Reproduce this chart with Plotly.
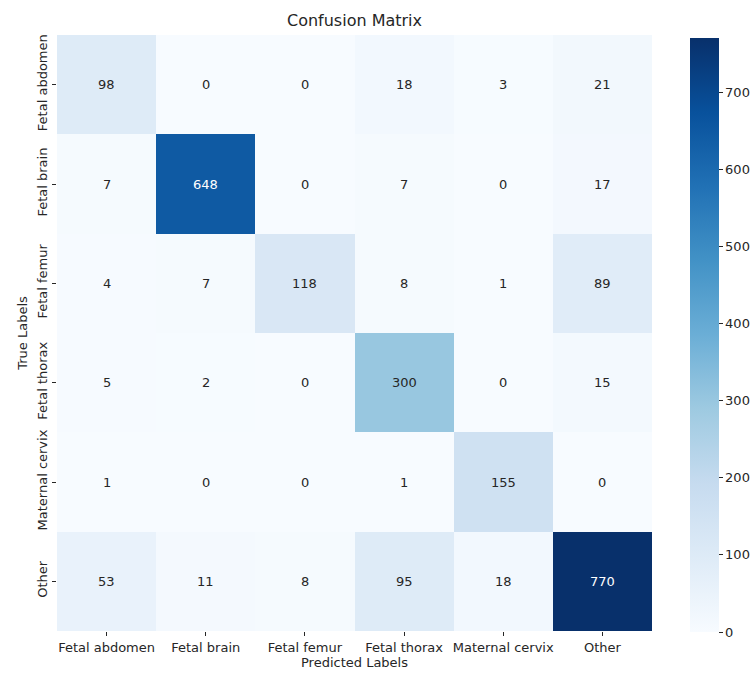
import plotly.graph_objects as go
from plotly.colors import sample_colorscale, sequential, unlabel_rgb

# Confusion-matrix data
labels = ["Fetal abdomen", "Fetal brain", "Fetal femur",
          "Fetal thorax", "Maternal cervix", "Other"]
row_fetal_abdomen = [98, 0, 0, 18, 3, 21]
row_fetal_brain = [7, 648, 0, 7, 0, 17]
row_fetal_femur = [4, 7, 118, 8, 1, 89]
row_fetal_thorax = [5, 2, 0, 300, 0, 15]
row_maternal_cervix = [1, 0, 0, 1, 155, 0]
row_other = [53, 11, 8, 95, 18, 770]
cbar_ticks = [0, 100, 200, 300, 400, 500, 600, 700]

matrix = [row_fetal_abdomen, row_fetal_brain, row_fetal_femur,
          row_fetal_thorax, row_maternal_cervix, row_other]

blues = sequential.Blues
zmin = 0
zmax = max(max(r) for r in matrix)

W, H = 753, 675
L, R, T, B = 57, 101, 35, 44
FONT = "DejaVu Sans"

fig = go.Figure(go.Heatmap(
    z=matrix, x=labels, y=labels,
    colorscale=blues, zmin=zmin, zmax=zmax,
    xgap=0, ygap=0,
    hoverinfo="skip",
    colorbar=dict(
        thickness=29, thicknessmode="pixels",
        len=594, lenmode="pixels",
        xpad=0, ypad=0,
        x=(690 - L) / (W - L - R), xanchor="left",
        y=(H - B - 335) / (H - T - B), yanchor="middle",
        tickvals=cbar_ticks, ticks="outside", ticklen=4,
        tickcolor="#262626", outlinewidth=0,
        tickfont=dict(family=FONT, size=13, color="#262626"),
    ),
))


def luminance(rgb):
    vals = []
    for c in rgb:
        c = c / 255
        vals.append(c / 12.92 if c <= 0.03928 else ((c + 0.055) / 1.055) ** 2.4)
    return 0.2126 * vals[0] + 0.7152 * vals[1] + 0.0722 * vals[2]


# Per-cell annotations, light text on dark cells
for i, row in enumerate(matrix):
    for j, v in enumerate(row):
        col = sample_colorscale(blues, [(v - zmin) / (zmax - zmin)])[0]
        rgb = unlabel_rgb(col)
        txt_col = "#262626" if luminance(rgb) > 0.408 else "white"
        fig.add_annotation(x=labels[j], y=labels[i], text=str(v),
                           showarrow=False,
                           font=dict(family=FONT, size=13, color=txt_col))

fig.update_layout(
    width=W, height=H,
    margin=dict(l=L, r=R, t=T, b=B, autoexpand=False),
    paper_bgcolor="white", plot_bgcolor="white",
    font=dict(family=FONT, size=13, color="#262626"),
    title=dict(text="Confusion Matrix", x=(L + (W - R)) / 2 / W,
               xanchor="center", y=1 - 20 / H, yanchor="middle",
               font=dict(family=FONT, size=16, color="#262626")),
    xaxis=dict(title=dict(text="Predicted Labels", standoff=4,
                          font=dict(family=FONT, size=13)),
               ticks="outside", ticklen=4, tickcolor="#262626",
               showgrid=False, zeroline=False, automargin=False,
               tickfont=dict(family=FONT, size=13)),
    yaxis=dict(title=dict(text="True Labels", standoff=4,
                          font=dict(family=FONT, size=13)),
               autorange="reversed", tickangle=-90,
               ticks="outside", ticklen=4, tickcolor="#262626",
               showgrid=False, zeroline=False, automargin=False,
               tickfont=dict(family=FONT, size=13)),
)

fig.write_html("out.html")
